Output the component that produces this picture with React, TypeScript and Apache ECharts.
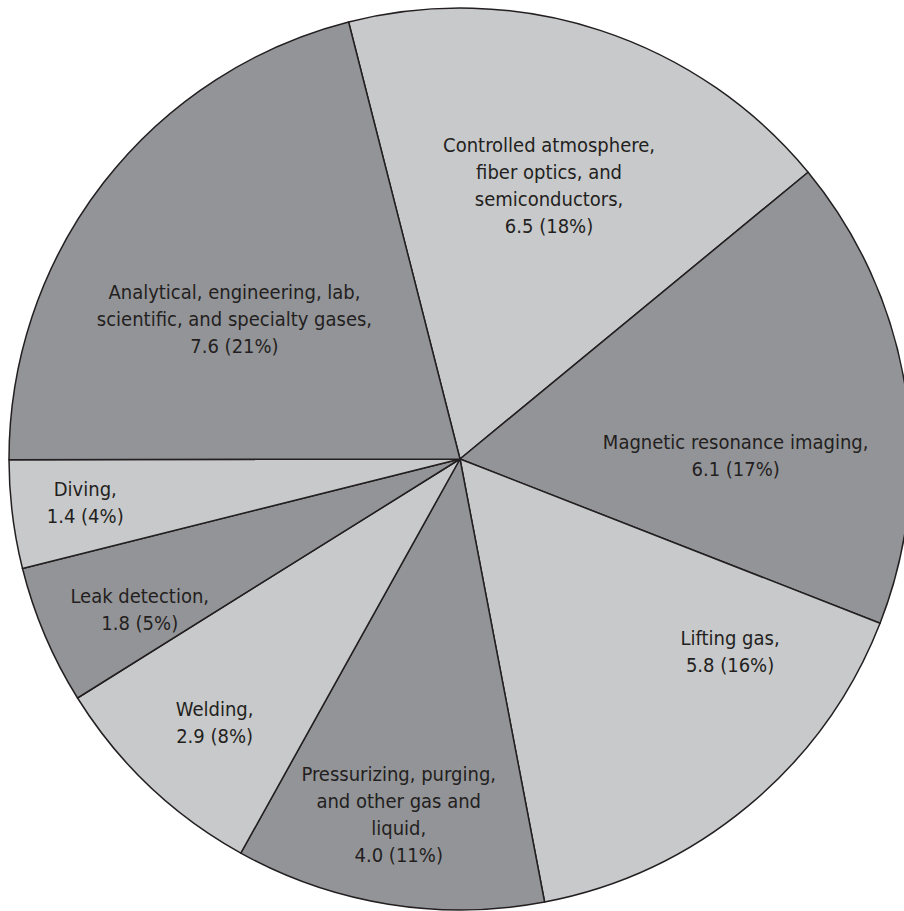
import React, { useEffect, useRef } from "react";
import * as echarts from "echarts";

const categories = [
  "Controlled atmosphere,\nfiber optics, and\nsemiconductors,",
  "Magnetic resonance imaging,",
  "Lifting gas,",
  "Pressurizing, purging,\nand other gas and\nliquid,",
  "Welding,",
  "Leak detection,",
  "Diving,",
  "Analytical, engineering, lab,\nscientific, and specialty gases,",
];
const values = [6.5, 6.1, 5.8, 4.0, 2.9, 1.8, 1.4, 7.6];
const fills = ["#c8c9cb", "#939498", "#c8c9cb", "#939498", "#c8c9cb", "#939498", "#c8c9cb", "#939498"];
// label shifts (px) from the default inside position
const labelShift: [number, number][] = [
  [18, -56],
  [50, 32],
  [124, 17],
  [-25, 130],
  [-88, 98],
  [-110, 61],
  [-148, 15],
  [-45, 0],
];

export default function App() {
  const ref = useRef<HTMLDivElement>(null);
  useEffect(() => {
    if (!ref.current) return;
    const chart = echarts.init(ref.current, undefined, { renderer: "svg" });
    chart.setOption({
      animation: false,
      backgroundColor: "#ffffff",
      series: [
        {
          type: "pie",
          center: [460, 459],
          radius: [0, 451],
          startAngle: 104.3,
          clockwise: true,
          percentPrecision: 0,
          silent: true,
          itemStyle: { borderColor: "#231f20", borderWidth: 1.5 },
          label: {
            show: true,
            position: "inside",
            color: "#231f20",
            fontFamily: "'Liberation Sans Narrow', 'DejaVu Sans Condensed', Roboto, sans-serif",
            fontSize: 20,
            lineHeight: 27,
            align: "center",
            formatter: (p: any) => `${p.name}\n${Number(p.value).toFixed(1)} (${p.percent}%)`,
          },
          labelLine: { show: false },
          labelLayout: (p: any) => {
            const s = labelShift[p.dataIndex];
            const r = p.labelRect;
            return { x: r.x + r.width / 2 + s[0], y: r.y + r.height / 2 + s[1] };
          },
          data: values.map((v, i) => ({
            name: categories[i],
            value: v,
            itemStyle: { color: fills[i] },
          })),
        },
      ],
    });
    return () => chart.dispose();
  }, []);
  return (
    <div
      ref={ref}
      style={{ position: "absolute", left: 0, top: 0, width: 904, height: 911 }}
    />
  );
}
